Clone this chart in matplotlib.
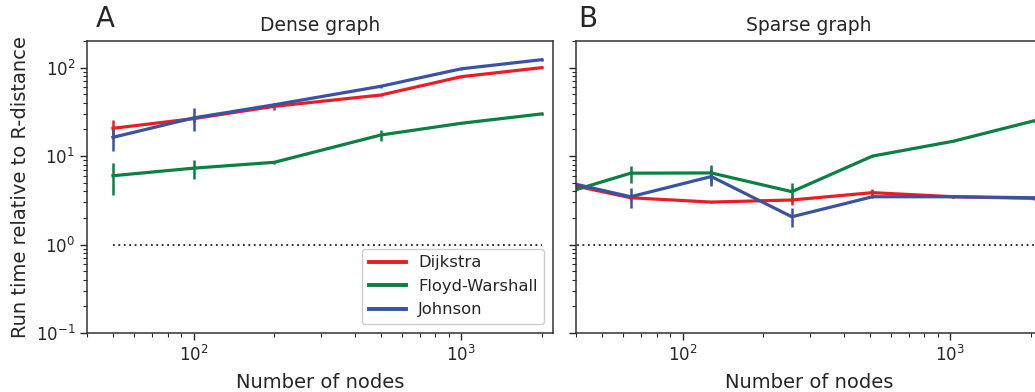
import matplotlib
matplotlib.use("Agg")
import matplotlib.pyplot as plt
from matplotlib.lines import Line2D

# ---------------- data ----------------
dense_nodes = [50, 100, 200, 500, 1000, 2000]
dense_dijkstra = [20.6, 26.5, 36.5, 49, 79, 100]
dense_dijkstra_err = [5.0, 2.0, 3.0, 1.5, 2.0, 2.0]
dense_floyd = [6.0, 7.3, 8.5, 17.3, 23.5, 30]
dense_floyd_err = [2.35, 1.8, 0.4, 2.4, 0.6, 0.8]
dense_johnson = [16.3, 27.0, 38.0, 61.5, 97, 123]
dense_johnson_err = [4.8, 7.8, 1.5, 2.0, 2.0, 3.0]

sparse_nodes = [32, 64, 128, 256, 512, 1024, 2048]
sparse_dijkstra = [5.3, 3.38, 3.02, 3.19, 3.86, 3.47, 3.33]
sparse_dijkstra_err = [0.2, 0.15, 0.1, 0.4, 0.35, 0.15, 0.1]
sparse_floyd = [3.4, 6.41, 6.45, 3.96, 10.0, 14.7, 25.0]
sparse_floyd_err = [0.2, 1.4, 1.5, 0.95, 0.3, 0.4, 0.5]
sparse_johnson = [5.6, 3.47, 5.87, 2.06, 3.47, 3.47, 3.38]
sparse_johnson_err = [0.2, 0.9, 1.25, 0.5, 0.1, 0.1, 0.1]

series_names = ["Dijkstra", "Floyd-Warshall", "Johnson"]
colors = ["#ed1c24", "#0b8043", "#3a52a3"]
panel_titles = ["Dense graph", "Sparse graph"]
panel_letters = ["A", "B"]
xlabel = "Number of nodes"
ylabel = "Run time relative to R-distance"

# ---------------- plot ----------------
txt = "#262626"
plt.rcParams["font.family"] = ["DejaVu Sans"]
plt.rcParams["text.color"] = txt
plt.rcParams["axes.labelcolor"] = txt
plt.rcParams["xtick.color"] = txt
plt.rcParams["ytick.color"] = txt
plt.rcParams["axes.edgecolor"] = "#333333"

fig = plt.figure(figsize=(10.35, 3.92), dpi=100)
W, H = 1035, 392
axA = fig.add_axes([87 / W, 1 - 333 / H, 466 / W, 292 / H])
axB = fig.add_axes([576 / W, 1 - 333 / H, 466 / W, 292 / H], sharey=axA)

panels = [
    (axA, dense_nodes, [(dense_dijkstra, dense_dijkstra_err),
                        (dense_floyd, dense_floyd_err),
                        (dense_johnson, dense_johnson_err)]),
    (axB, sparse_nodes, [(sparse_dijkstra, sparse_dijkstra_err),
                         (sparse_floyd, sparse_floyd_err),
                         (sparse_johnson, sparse_johnson_err)]),
]

for i, (ax, xs, series) in enumerate(panels):
    for (vals, errs), name, c in zip(series, series_names, colors):
        ax.errorbar(xs, vals, yerr=errs, color=c, lw=2.3, elinewidth=1.8,
                    capsize=0, label=name)
    ax.hlines(1, xs[0], xs[-1], colors="#222222", linestyles=(0, (1, 2)),
              lw=1.3)
    ax.set_xscale("log")
    ax.set_yscale("log")
    ax.set_xlim(40, 2200)
    ax.set_ylim(0.1, 200)
    ax.set_title(panel_titles[i], fontsize=13.5, pad=7)
    ax.set_xlabel(xlabel, fontsize=14, labelpad=6)
    ax.tick_params(axis="both", which="major", labelsize=12, length=5,
                   width=1.0)
    ax.tick_params(axis="both", which="minor", length=3, width=0.8)
    for s in ax.spines.values():
        s.set_linewidth(1.1)

axA.set_ylabel(ylabel, fontsize=14, labelpad=4)
plt.setp(axB.get_yticklabels(), visible=False)

fig.text(96 / W, 1 - 27 / H, panel_letters[0], fontsize=20, color=txt)
fig.text(578 / W, 1 - 27 / H, panel_letters[1], fontsize=20, color=txt)

leg_handles = [Line2D([], [], color=c, lw=2.8) for c in colors]
axA.legend(leg_handles, series_names, loc="lower right", fontsize=11.8,
           frameon=True, framealpha=1.0, edgecolor="#cccccc",
           handlelength=2.25, borderpad=0.4, labelspacing=0.52,
           handletextpad=0.75, borderaxespad=0.55)

fig.savefig("out.png", dpi=100)
